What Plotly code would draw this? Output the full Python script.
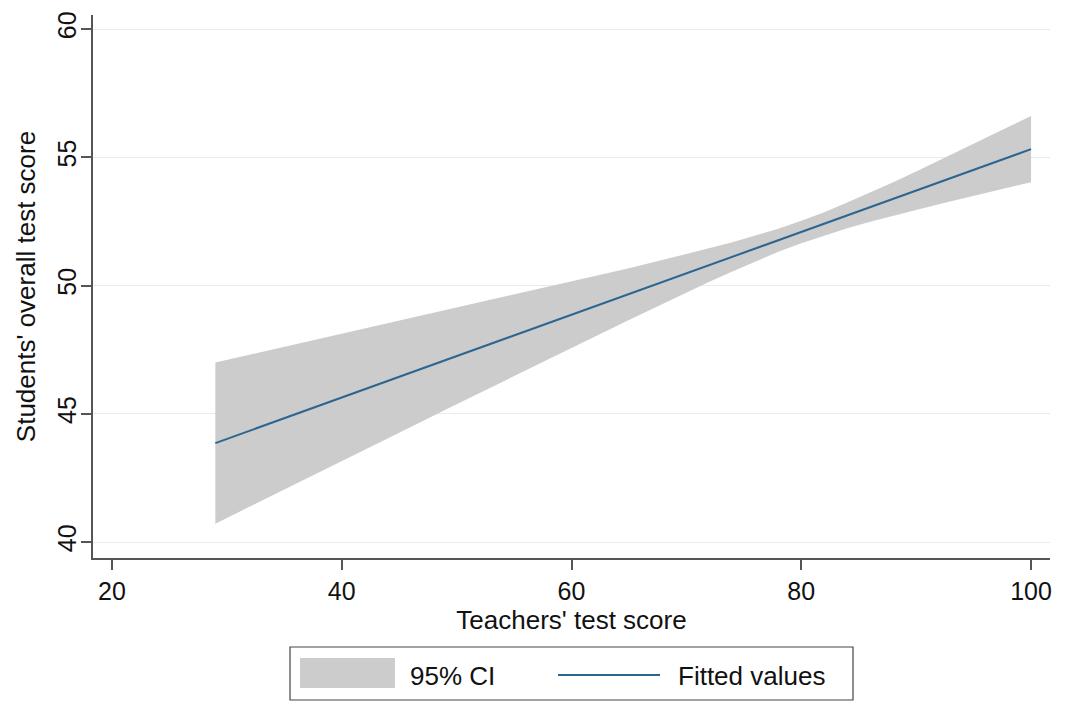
import plotly.graph_objects as go

# Teachers' test score grid at which the fit and its confidence band are drawn
teacher_score = [29, 35, 40, 45, 50, 55, 60, 65, 70, 72, 74, 76, 78,
                 80, 82, 84, 86, 88, 90, 92.5, 95, 97.5, 100]

# Linear prediction of students' overall test score
fitted = [43.86, 44.83, 45.64, 46.44, 47.25, 48.06, 48.86, 49.67, 50.48,
          50.80, 51.12, 51.45, 51.77, 52.09, 52.41, 52.74, 53.06, 53.38,
          53.70, 54.11, 54.51, 54.92, 55.32]

# 95% confidence interval bounds of the prediction
ci_upper = [47.00, 47.61, 48.12, 48.62, 49.13, 49.64, 50.15, 50.68, 51.23,
            51.45, 51.69, 51.95, 52.22, 52.53, 52.86, 53.24, 53.63, 54.03,
            54.45, 54.99, 55.52, 56.07, 56.61]
ci_lower = [40.72, 42.05, 43.16, 44.26, 45.37, 46.48, 47.57, 48.66, 49.73,
            50.15, 50.55, 50.95, 51.32, 51.65, 51.96, 52.24, 52.49, 52.73,
            52.95, 53.23, 53.50, 53.77, 54.03]

x_ticks = [20, 40, 60, 80, 100]
y_ticks = [40, 45, 50, 55, 60]

band_color = "#cccccc"
line_color = "#2b6590"
axis_color = "#555555"
grid_color = "#e4eef0"
text_color = "#111111"
font_family = "Liberation Sans, Arial, Helvetica, sans-serif"

fig = go.Figure()

# Shaded confidence band (upper bound forward, lower bound back)
fig.add_trace(go.Scatter(
    x=teacher_score + teacher_score[::-1],
    y=ci_upper + ci_lower[::-1],
    fill="toself",
    fillcolor=band_color,
    line=dict(width=0),
    mode="lines",
    hoverinfo="skip",
    name="95% CI",
    showlegend=False,
))

# Fitted regression line
fig.add_trace(go.Scatter(
    x=teacher_score,
    y=fitted,
    mode="lines",
    line=dict(color=line_color, width=2),
    name="Fitted values",
    showlegend=False,
))

# Plot area: left 93px .. right 1050px, top 15px .. bottom 558px
L, R, T, B = 93, 28, 15, 145
W, H = 1078, 703
pw, ph = W - L - R, H - T - B


def px_x(px):
    return (px - L) / pw


def px_y(py):
    return (H - B - py) / ph


# Legend box drawn as shapes and text below the plot
shapes = [
    dict(type="rect", xref="paper", yref="paper",
         x0=px_x(290), x1=px_x(853), y0=px_y(700), y1=px_y(647),
         line=dict(color="#444444", width=1.2), fillcolor="white"),
    dict(type="rect", xref="paper", yref="paper",
         x0=px_x(300), x1=px_x(395), y0=px_y(688), y1=px_y(658),
         line=dict(width=0), fillcolor=band_color),
    dict(type="line", xref="paper", yref="paper",
         x0=px_x(558), x1=px_x(660), y0=px_y(675), y1=px_y(675),
         line=dict(color=line_color, width=2)),
]

legend_font = dict(size=26, color=text_color, family=font_family)
annotations = [
    dict(text="95% CI", xref="paper", yref="paper",
         x=px_x(408), y=px_y(676), xanchor="left", yanchor="middle",
         showarrow=False, font=legend_font),
    dict(text="Fitted values", xref="paper", yref="paper",
         x=px_x(676), y=px_y(676), xanchor="left", yanchor="middle",
         showarrow=False, font=legend_font),
]

fig.update_layout(
    width=W, height=H,
    margin=dict(l=L, r=R, t=T, b=B, pad=0),
    paper_bgcolor="white",
    plot_bgcolor="white",
    font=dict(family=font_family, color=text_color, size=25),
    shapes=shapes,
    annotations=annotations,
    xaxis=dict(
        range=[18.35, 101.65],
        tickmode="array", tickvals=x_ticks,
        ticks="outside", ticklen=10, tickwidth=1.5, tickcolor=axis_color,
        showline=True, linecolor=axis_color, linewidth=1.5,
        showgrid=False, zeroline=False,
        tickfont=dict(size=25),
        title=dict(text="Teachers' test score", font=dict(size=26), standoff=4),
    ),
    yaxis=dict(
        range=[39.38, 60.55],
        tickmode="array", tickvals=y_ticks,
        tickangle=-90,
        ticks="outside", ticklen=10, tickwidth=1.5, tickcolor=axis_color,
        ticklabelstandoff=-5,
        showline=True, linecolor=axis_color, linewidth=1.5,
        showgrid=True, gridcolor=grid_color, gridwidth=1.2,
        zeroline=False,
        tickfont=dict(size=25),
        title=dict(text="Students' overall test score", font=dict(size=26), standoff=10),
    ),
)

fig.write_html("out.html")
